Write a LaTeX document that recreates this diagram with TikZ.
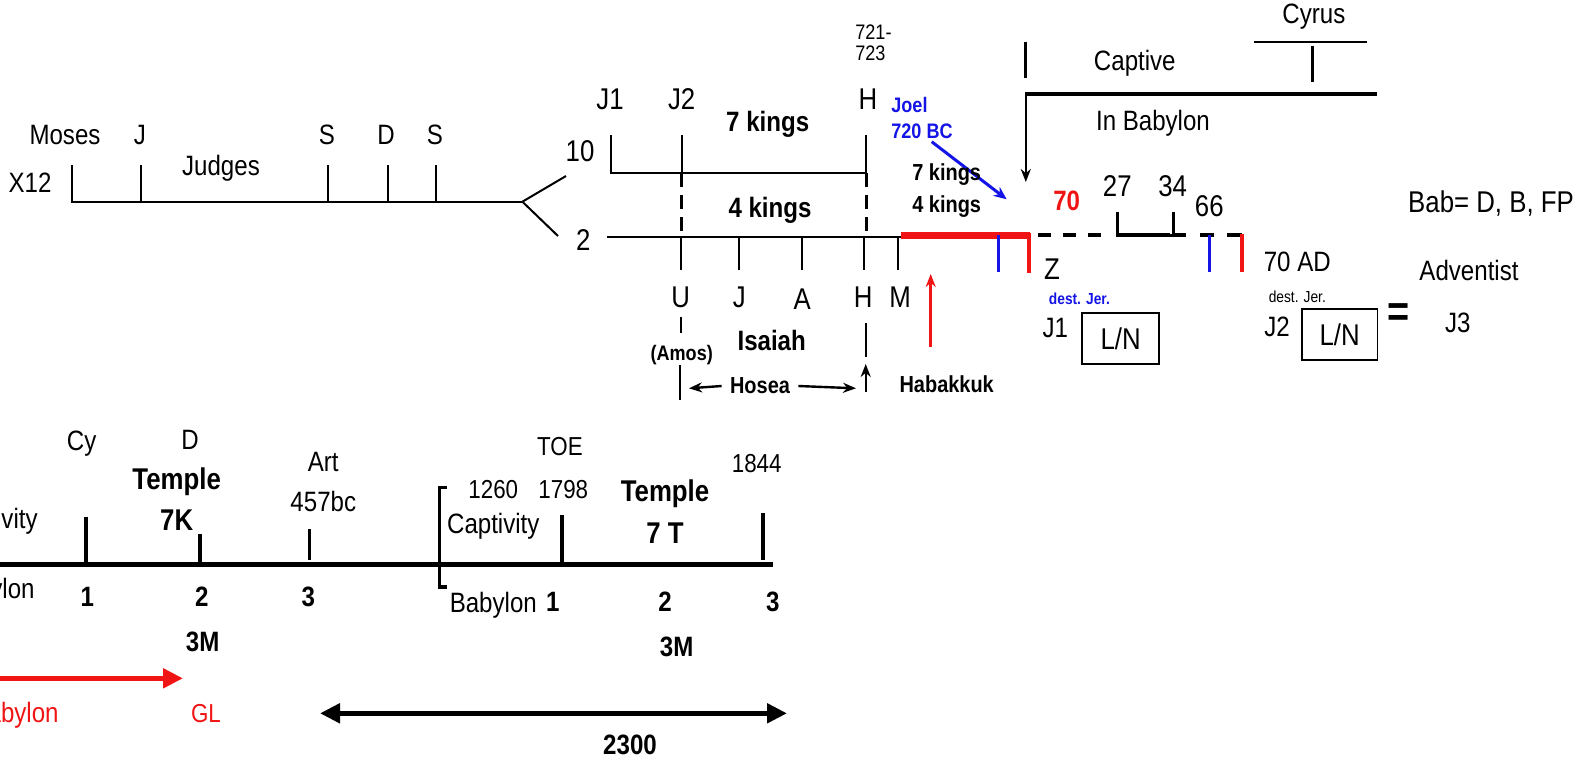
\documentclass[tikz,border=0pt]{standalone}
\usepackage{fontspec}
\setmainfont[FakeStretch=0.86]{Liberation Sans}
\usetikzlibrary{arrows.meta}
\definecolor{myred}{RGB}{240,20,20}
\definecolor{myblue}{RGB}{20,20,230}
\tikzset{
  t/.style={inner sep=0pt, anchor=center},
  s15/.style={t, font=\fontsize{15}{17}\selectfont},
  s14/.style={t, font=\fontsize{14}{16}\selectfont},
  s13/.style={t, font=\fontsize{13}{15}\selectfont},
  s10/.style={t, font=\fontsize{10.5}{10.5}\selectfont},
  s8/.style={t, font=\fontsize{8}{9}\selectfont},
  b15/.style={t, font=\fontsize{15}{17}\selectfont\bfseries},
  b14/.style={t, font=\fontsize{14}{16}\selectfont\bfseries},
  b12/.style={t, font=\fontsize{11.6}{13}\selectfont\bfseries},
  b10/.style={t, font=\fontsize{10.5}{13}\selectfont\bfseries},
  b8/.style={t, font=\fontsize{8}{9}\selectfont\bfseries},
  thinl/.style={line width=1pt},
  tick/.style={line width=1.8pt},
  bigl/.style={line width=2.5pt},
  dsh/.style={line width=1.5pt, dash pattern=on 7pt off 4pt},
  arr/.style={line width=1.2pt, -{Stealth[length=6.5pt,width=5pt]}},
  fat/.style={-{Triangle[length=10pt,width=9.5pt]}},
}
\begin{document}
\begin{tikzpicture}[x=0.5pt,y=-0.5pt]
\useasboundingbox (0,0) rectangle (1579,762);

% ---------- top left timeline ----------
\draw[thinl] (72,165) -- (72,201.7) -- (522.4,201.7);
\foreach \xx in {140.5,328,388,435.5} \draw[thinl] (\xx,165) -- (\xx,201.7);
\draw[thinl] (522.4,201.7) -- (566,176);
\draw[thinl] (522.4,201.7) -- (558,236);
\node[s14] (moses) at (65,135) {Moses};
\node[s14] (jj) at (140,135) {J};
\node[s14] (x12) at (30,183) {X12};
\node[s14] (judges) at (221,168) {Judges};
\node[s14] (s1) at (327,135) {S};
\node[s14] (dd) at (386,135) {D};
\node[s14] (s2) at (435,135) {S};

% ---------- middle ----------
\node[s15] (ten) at (580,151) {10};
\node[s15] (two) at (583.3,240) {2};
\node[s15] (j1) at (610,99) {J1};
\node[s15] (j2) at (681.7,99) {J2};
\node[s15] (hh) at (868,99) {H};
\node[s10, anchor=west, align=left] (yr) at (855,43) {721-\\723};
\node[b14] (k7) at (767.7,124) {7 kings};
\node[b14] (k4) at (770,210) {4 kings};
\draw[thinl] (610.7,135) -- (610.7,173.3) -- (866,173.3);
\draw[thinl] (681.7,135) -- (681.7,173.3);
\draw[thinl] (865.5,135) -- (865.5,173.3);
\draw[dsh] (681.7,173.3) -- (681.7,237.3);
\draw[dsh] (866,173.3) -- (866,237.3);
\draw[thinl] (606.7,237.3) -- (901,237.3);
\foreach \xx in {680.7,739.3,801.7,864,898.3} \draw[thinl] (\xx,237.3) -- (\xx,270);
\node[s15] (uu) at (680.7,297) {U};
\node[s15] (jb) at (739.3,297) {J};
\node[s15] (aa) at (802.3,299) {A};
\node[s15] (hb) at (863.3,297) {H};
\node[s15] (mm) at (900,297) {M};
\draw[thinl] (680.7,316.7) -- (680.7,333.3);
\node[b10] (amos) at (681.7,355) {(Amos)};
\draw[thinl] (680,365) -- (680,400);
\node[b14] (isaiah) at (771.7,340) {Isaiah};
\draw[thinl] (865.7,323.3) -- (865.7,356.7);
\coordinate (hup1) at (865.7,391.7);
\coordinate (hup2) at (865.7,364);
\draw[arr] (hup1) -- (hup2);
\node[b12] (hosea) at (760,386) {Hosea};
\coordinate (hl) at (689,388.3);
\coordinate (hr) at (856,388.3);
\draw[arr] (hosea.west) ++(-4pt,0) -- (hl);
\draw[arr] (hosea.east) ++(4pt,0) -- (hr);
\coordinate (hab1) at (930.7,346.7);
\coordinate (hab2) at (930.7,274);
\draw[arr, myred, line width=1.4pt] (hab1) -- (hab2);
\node[b12] (habakkuk) at (946.7,384) {Habakkuk};

% Joel
\node[b10, text=myblue, anchor=west, align=left] (joel) at (891,118) {Joel\\720 BC};
\coordinate (ja) at (931.7,141.7);
\coordinate (jb2) at (1006.7,199.3);
\draw[myblue, line width=1.5pt, -{Stealth[length=6.5pt,width=5.5pt]}] (ja) -- (jb2);
\node[b12] (k7s) at (946.7,175) {7 kings};
\node[b12] (k4s) at (946.7,207) {4 kings};

% red bar and markers
\draw[myred, line width=3.5pt] (900.7,235) -- (1030,235);
\draw[myred, line width=2.2pt] (1029,233) -- (1029,273.3);
\draw[myblue, line width=1.3pt] (998.3,235) -- (998.3,271.7);
\draw[line width=1.8pt] (1038.3,235) -- (1051,235) (1063,235) -- (1076,235) (1088,235) -- (1101,235);
\draw[line width=1.5pt] (1117.7,211.7) -- (1117.7,235) -- (1173.3,235) -- (1173.3,211.7);
\draw[line width=2.4pt] (1117.7,235) -- (1170,235);
\draw[line width=1.8pt] (1173.3,235) -- (1186,235) (1200,235) -- (1214,235) (1227,235) -- (1242,235);
\draw[myblue, line width=1.3pt] (1209.3,235) -- (1209.3,271.7);
\draw[myred, line width=2.2pt] (1241.7,234) -- (1241.7,271.7);

% top right
\draw[line width=1.5pt] (1025.8,41.7) -- (1025.8,78.3);
\draw[line width=2.2pt] (1025,94) -- (1377.4,94);
\coordinate (dn1) at (1025.8,94);
\coordinate (dn2) at (1025.8,182);
\draw[arr] (dn1) -- (dn2);
\node[s14] (captive) at (1134.8,63.3) {Captive};
\node[s14] (inbab) at (1153,123.3) {In Babylon};
\node[s14] (cyrus) at (1313.9,17) {Cyrus};
\draw[thinl] (1254,42.3) -- (1366.7,42.3);
\draw[line width=1.5pt] (1312,45.7) -- (1312,81.7);
\node[b14, text=myred] (seventy) at (1066.7,201) {70};
\node[s15] (n27) at (1117.3,186) {27};
\node[s15] (n34) at (1172.7,186) {34};
\node[s15] (n66) at (1209.3,206) {66};
\node[s15] (bab) at (1491,204) {Bab= D, B, FP};
\node[s15] (zz) at (1052,269) {Z};
\node[b8, text=myblue] (dest1) at (1079.4,298.3) {dest. Jer.};
\node[s14] (j1b) at (1055.4,328.3) {J1};
\node[draw, line width=0.9pt, minimum width=38.5pt, minimum height=25.3pt, inner sep=0pt, font=\fontsize{15}{17}\selectfont] (ln1) at (1120.7,338.6) {L/N};
\node[s14] (ad70) at (1297.3,262) {70 AD};
\node[s8] (dest2) at (1297.3,296.7) {dest. Jer.};
\node[s14] (j2b) at (1277,326.7) {J2};
\node[draw, line width=0.9pt, minimum width=37.7pt, minimum height=25.3pt, inner sep=0pt, font=\fontsize{15}{17}\selectfont] (ln2) at (1339.7,334.6) {L/N};
\node[t, font=\fontsize{22}{22}\selectfont\bfseries] (eq) at (1399,315) {=};
\node[s14] (j3) at (1457.9,323.3) {J3};
\node[s14] (adv) at (1469,270) {Adventist};

% ---------- bottom timeline ----------
\draw[bigl] (0,564.3) -- (773,564.3);
\node[s14, anchor=east] (capt0) at (38,521.7) {Captivity};
\node[s14, anchor=east] (bab0) at (35,591.7) {Babylon};
\node[s14] (cy) at (81.7,443.3) {Cy};
\node[s14] (db) at (190,440) {D};
\node[b15] (temple1) at (176.7,481.7) {Temple};
\node[b15] (k7b) at (176.7,520) {7K};
\node[s14] (art) at (323.3,461.7) {Art};
\node[s14] (bc457) at (323.3,501.7) {457bc};
\draw[tick] (86,516.7) -- (86,564.3);
\draw[tick] (200,534) -- (200,564.3);
\draw[tick] (309.3,529) -- (309.3,560);
\node[b14] (one1) at (87.3,596.7) {1};
\node[b14] (two1) at (201.7,596.7) {2};
\node[b14] (three1) at (308.3,596.7) {3};
\node[b14] (m31) at (202.7,641.7) {3M};
\coordinate (ra1) at (-5,678.3);
\coordinate (ra2) at (183,678.3);
\draw[bigl, myred, fat] (ra1) -- (ra2);
\node[s14, text=myred, anchor=east] (babr) at (59,715) {Babylon};
\node[s13, text=myred] (gl) at (206,714) {GL};
\coordinate (da1) at (320,713.3);
\coordinate (da2) at (787,713.3);
\draw[bigl, {Triangle[length=10pt,width=9.5pt]}-{Triangle[length=10pt,width=9.5pt]}] (da1) -- (da2);
\node[b14] (n2300) at (630,745) {2300};

\node[s13] (toe) at (560,446.7) {TOE};
\node[s13] (n1260) at (493.3,490) {1260};
\node[s13] (n1798) at (563.3,490) {1798};
\node[s13] (n1844) at (756.7,463.3) {1844};
\node[b15] (temple2) at (665,493.3) {Temple};
\node[b15] (t7) at (665,533.3) {7 T};
\draw[tick] (447,487.3) -- (439.3,487.3) -- (439.3,586.7) -- (447,586.7);
\node[s14] (capt2) at (493.3,526.7) {Captivity};
\node[s14] (bab2) at (493.3,605) {Babylon};
\node[b14] (one2) at (552.7,601.7) {1};
\draw[tick] (561.7,515) -- (561.7,564.3);
\draw[tick] (762.7,512.7) -- (762.7,560);
\node[b14] (two2) at (665,601.7) {2};
\node[b14] (three2) at (772.7,601.7) {3};
\node[b14] (m32) at (676.7,646.7) {3M};
\end{tikzpicture}
\end{document}
